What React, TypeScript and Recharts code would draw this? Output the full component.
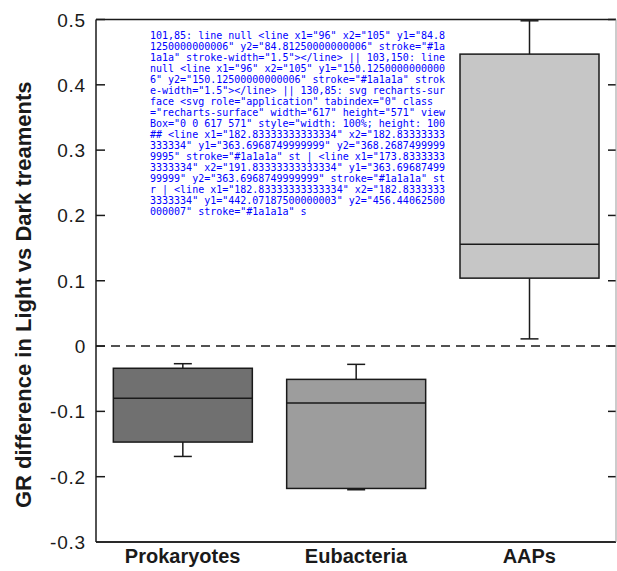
import React, { useEffect, useState } from 'react';
import { ComposedChart, Bar, XAxis, YAxis, ReferenceLine } from 'recharts';

const categories = ['Prokaryotes', 'Eubacteria', 'AAPs'];
const whiskerLow = [-0.169, -0.22, 0.011];
const q1 = [-0.147, -0.218, 0.104];
const median = [-0.08, -0.087, 0.156];
const q3 = [-0.034, -0.051, 0.447];
const whiskerHigh = [-0.027, -0.028, 0.498];
const fills = ['#707070', '#9d9d9d', '#c6c6c6'];
const yTicks = [-0.3, -0.2, -0.1, 0, 0.1, 0.2, 0.3, 0.4, 0.5];
const yDomain = [-0.3, 0.5];
const yLabel = 'GR difference in Light vs Dark treaments';

const data = categories.map((name, i) => ({
  name,
  box: [q1[i], q3[i]],
  lo: whiskerLow[i],
  q1: q1[i],
  med: median[i],
  q3: q3[i],
  hi: whiskerHigh[i],
  fill: fills[i],
}));

const BoxShape = (props: any) => {
  const { x, y, width, height, payload } = props;
  const top = Math.min(y, y + height);
  const h = Math.abs(height);
  const ppu = h / (payload.q3 - payload.q1);
  const py = (v: number) => top + (payload.q3 - v) * ppu;
  const cx = x + width / 2;
  const cap = 9;
  const stroke = '#1a1a1a';
  return (
    <g>
      <line x1={cx} x2={cx} y1={py(payload.hi)} y2={py(payload.q3)} stroke={stroke} strokeWidth={1.5} />
      <line x1={cx - cap} x2={cx + cap} y1={py(payload.hi)} y2={py(payload.hi)} stroke={stroke} strokeWidth={1.5} />
      <line x1={cx} x2={cx} y1={py(payload.q1)} y2={py(payload.lo)} stroke={stroke} strokeWidth={1.5} />
      <line x1={cx - cap} x2={cx + cap} y1={py(payload.lo)} y2={py(payload.lo)} stroke={stroke} strokeWidth={1.5} />
      <rect x={x} y={top} width={width} height={h} fill={payload.fill} stroke={stroke} strokeWidth={1.5} />
      <line x1={x} x2={x + width} y1={py(payload.med)} y2={py(payload.med)} stroke={stroke} strokeWidth={1.5} />
    </g>
  );
};

const fmt = (v: number) => String(Math.round(v * 10) / 10);

const LeftTick = (props: any) => {
  const { x, y, payload } = props;
  return (
    <text x={x} y={y} dy={7} textAnchor="end" fontFamily="Liberation Sans, Arial, sans-serif" fontSize={19} letterSpacing={0.8} fill="#1a1a1a">
      {fmt(payload.value)}
    </text>
  );
};

const TickMarks = (props: any) => {
  const x1 = Math.min(props.x1, props.x2);
  const x2 = Math.max(props.x1, props.x2);
  const y = props.y1;
  return (
    <g>
      <line x1={x1} x2={x1 + 9} y1={y} y2={y} stroke="#1a1a1a" strokeWidth={1.5} />
      <line x1={x2 - 8} x2={x2} y1={y} y2={y} stroke="#1a1a1a" strokeWidth={1.5} />
    </g>
  );
};

const YLabel = (props: any) => {
  const vb = props.viewBox || { x: 0, y: 19.5, width: 96, height: 522 };
  const cx = vb.x + 31;
  const cy = vb.y + vb.height / 2 + 14;
  return (
    <text
      x={cx}
      y={cy}
      transform={`rotate(-90, ${cx}, ${cy})`}
      textAnchor="middle"
      fontFamily="Liberation Sans, Arial, sans-serif"
      fontWeight="bold"
      fontSize={22}
      fill="#1a1a1a"
    >
      {yLabel}
    </text>
  );
};

export default function App() {
  const [dbg, setDbg] = useState('');
  useEffect(() => {
    const t = setTimeout(() => {
      const pts = [[101, 85], [103, 150], [130, 85]];
      const out = pts.map(([px, py]) => {
        const el = document.elementFromPoint(px, py) as any;
        if (!el) return `${px},${py}: none`;
        return `${px},${py}: ${el.tagName} ${String(el.getAttribute && el.getAttribute('class'))} ${el.outerHTML.slice(0, 140)}`;
      });
      const lines = Array.from(document.querySelectorAll('line')).slice(0, 3).map((l: any) => l.outerHTML.slice(0, 120));
      setDbg(out.join(' || ') + ' ## ' + lines.join(' | '));
    }, 300);
    return () => clearTimeout(t);
  }, []);
  return (
    <div style={{ position: 'absolute', left: 0, top: 0, background: '#fff' }}>
      <ComposedChart
        width={617}
        height={571}
        data={data}
        margin={{ top: 19.5, right: 0, bottom: 0, left: 0 }}
        barCategoryGap="10%"
      >
        <XAxis
          dataKey="name"
          height={29}
          tickLine={false}
          tickSize={0}
          tickMargin={7}
          axisLine={{ stroke: '#2a2a2a', strokeWidth: 2 }}
          tick={{ fill: '#1a1a1a', fontSize: 20, fontWeight: 'bold', fontFamily: 'Liberation Sans, Arial, sans-serif' }}
        />
        <YAxis
          yAxisId="left"
          domain={yDomain}
          ticks={yTicks}
          width={96}
          tickSize={0}
          tickMargin={10}
          tickLine={false}
          axisLine={{ stroke: '#1a1a1a', strokeWidth: 1.5 }}
          tick={<LeftTick />}
          interval={0}
          label={<YLabel />}
        />
        <YAxis
          yAxisId="right"
          orientation="right"
          domain={yDomain}
          ticks={yTicks}
          width={1}
          tick={false}
          tickLine={false}
          axisLine={{ stroke: '#999', strokeWidth: 1 }}
        />
        {yTicks.map((v) => (
          <ReferenceLine key={`t${v}`} yAxisId="left" y={v} shape={<TickMarks />} />
        ))}
        <ReferenceLine yAxisId="left" y={0.5} stroke="#1a1a1a" strokeWidth={1.5} />
        <ReferenceLine yAxisId="left" y={0} stroke="#1a1a1a" strokeWidth={1.5} strokeDasharray="9 6" />
        <Bar yAxisId="left" dataKey="box" shape={<BoxShape />} isAnimationActive={false} />
      </ComposedChart>
      <div style={{ position: 'absolute', left: 150, top: 30, width: 300, fontSize: 10, fontFamily: 'DejaVu Sans Mono', color: 'blue', wordBreak: 'break-all', background: 'rgba(255,255,255,0.9)' }}>
        {dbg}
      </div>
    </div>
  );
}
